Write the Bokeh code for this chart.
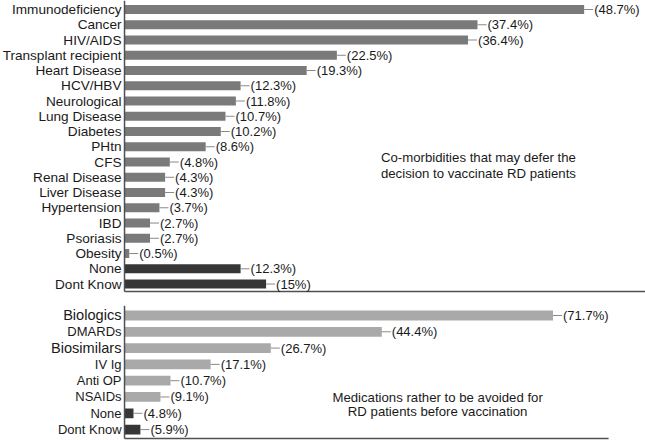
from bokeh.plotting import figure
from bokeh.models import ColumnDataSource, Range1d, LabelSet, Label
from bokeh.core.properties import value, field
from bokeh.layouts import column
from bokeh.embed import file_html
from bokeh.resources import INLINE

# ---------------- data ----------------
top_cats = ["Immunodeficiency", "Cancer", "HIV/AIDS", "Transplant recipient", "Heart Disease",
            "HCV/HBV", "Neurological", "Lung Disease", "Diabetes", "PHtn", "CFS",
            "Renal Disease", "Liver Disease", "Hypertension", "IBD", "Psoriasis", "Obesity",
            "None", "Dont Know"]
top_vals = [48.7, 37.4, 36.4, 22.5, 19.3, 12.3, 11.8, 10.7, 10.2, 8.6, 4.8, 4.3, 4.3, 3.7,
            2.7, 2.7, 0.5, 12.3, 15]
top_labels = ["(48.7%)", "(37.4%)", "(36.4%)", "(22.5%)", "(19.3%)", "(12.3%)", "(11.8%)",
              "(10.7%)", "(10.2%)", "(8.6%)", "(4.8%)", "(4.3%)", "(4.3%)", "(3.7%)",
              "(2.7%)", "(2.7%)", "(0.5%)", "(12.3%)", "(15%)"]
top_kind = ["c"] * 17 + ["x", "x"]

bot_cats = ["Biologics", "DMARDs", "Biosimilars", "IV Ig", "Anti OP", "NSAIDs", "None", "Dont Know"]
bot_vals = [71.7, 44.4, 26.7, 17.1, 10.7, 9.1, 4.8, 5.9]
bot_labels = ["(71.7%)", "(44.4%)", "(26.7%)", "(17.1%)", "(10.7%)", "(9.1%)", "(4.8%)", "(5.9%)"]
bot_kind = ["m"] * 6 + ["x", "x"]
bot_big = ["Biologics", "Biosimilars"]   # set in a larger type in the original

top_title = ["Co-morbidities that may defer the", "decision to vaccinate RD patients"]
bot_title = ["Medications rather to be avoided for", "RD patients before vaccination"]

# ---------------- style ----------------
FONT = "Liberation Sans"
TXT = "#1a1a1a"
COLORS = {"c": "#7a7a7a", "m": "#a9a9a9", "x": "#363636"}
AXIS = "#505050"

# frame ranges (label area included on the left)
TOP_XR = (-13.14, 55.2)
TOP_YR = (18.62, -0.59)
TOP_AXIS = (0, 55.2, 18.49)     # x start, x end, y of base line
BOT_XR = (-16.41, 86.45)
BOT_YR = (7.67, -0.613)
BOT_AXIS = (3.37, 80.56, 7.55)


def make_panel(cats, vals, labels, kinds, xr, yr, ax, width, height, mb_top, mb_bottom,
               cat_sizes):
    n = len(cats)
    x0, x1, ybase = ax
    src = ColumnDataSource(dict(
        y=list(range(n)), v=vals, lab=labels, cat=cats,
        color=[COLORS[k] for k in kinds],
        xa=[x0] * n, fs=cat_sizes,
    ))
    p = figure(width=width, height=height, output_backend="svg", toolbar_location=None,
               x_range=Range1d(*xr), y_range=Range1d(*yr),
               min_border_left=0, min_border_right=0,
               min_border_top=mb_top, min_border_bottom=mb_bottom)
    p.axis.visible = False
    p.grid.visible = False
    p.outline_line_color = None
    p.background_fill_color = "white"
    p.border_fill_color = "white"

    p.hbar(y="y", left=x0, right="v", height=0.6, fill_color="color", line_color=None,
           source=src)
    p.ray(x="v", y="y", length=9, length_units="screen", angle=0,
          line_color="#8a8a8a", line_width=1, source=src)

    # axis lines
    p.segment(x0=[x0], y0=[yr[1]], x1=[x0], y1=[ybase], line_color=AXIS, line_width=1.5)
    p.segment(x0=[x0], y0=[ybase], x1=[x1], y1=[ybase], line_color=AXIS, line_width=1.5)

    p.add_layout(LabelSet(x="v", y="y", text="lab", source=src, x_offset=10,
                          text_font=value(FONT), text_font_size=value("13px"), text_color=TXT,
                          text_baseline="middle", text_align="left"))
    p.add_layout(LabelSet(x="xa", y="y", text="cat", source=src, x_offset=-3,
                          text_font=value(FONT), text_font_size=field("fs"), text_color=TXT,
                          text_baseline="middle", text_align="right"))
    return p


def add_title(p, lines, x, ys):
    for t, y in zip(lines, ys):
        p.add_layout(Label(x=x, y=y, text=t, text_font=FONT, text_font_size="13.2px",
                           text_color=TXT, text_align="center", text_baseline="middle"))


top = make_panel(top_cats, top_vals, top_labels, top_kind, TOP_XR, TOP_YR, TOP_AXIS,
                 645, 298, 0, 5, ["13.6px"] * len(top_cats))
add_title(top, top_title, 37.5, [9.7, 10.75])

bot_sizes = ["14.6px" if c in bot_big else "13px" for c in bot_cats]
bot = make_panel(bot_cats, bot_vals, bot_labels, bot_kind, BOT_XR, BOT_YR, BOT_AXIS,
                 645, 142, 7, 0, bot_sizes)
add_title(bot, bot_title, 53.3, [5.03, 5.9])

layout = column(top, bot, spacing=0)
open("out.html", "w").write(file_html(layout, INLINE))
